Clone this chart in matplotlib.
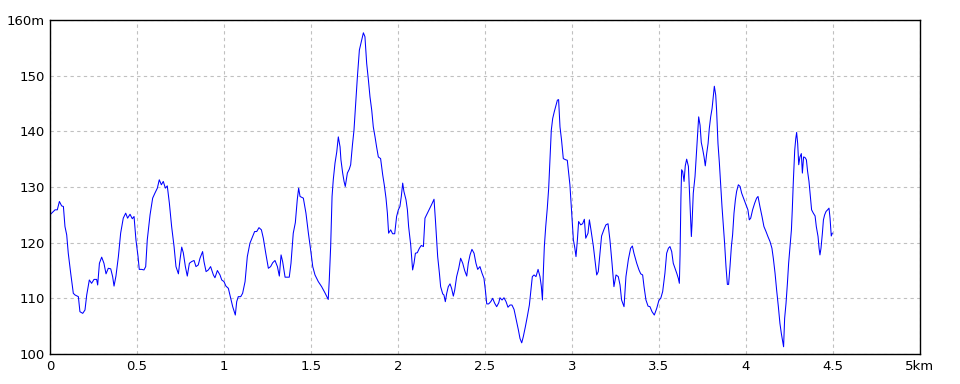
import matplotlib
matplotlib.use("Agg")
import matplotlib.pyplot as plt

# elevation profile (distance in km, elevation in m)
dist_km = [
    0.000, 0.029, 0.042, 0.054, 0.067, 0.077, 0.086, 0.096, 0.105, 0.119,
    0.134, 0.144, 0.163, 0.172, 0.188, 0.201, 0.211, 0.226, 0.239, 0.253,
    0.268, 0.274, 0.284, 0.297, 0.310, 0.322, 0.335, 0.349, 0.360, 0.368,
    0.379, 0.393, 0.406, 0.421, 0.435, 0.446, 0.460, 0.473, 0.483, 0.494,
    0.506, 0.513, 0.527, 0.540, 0.550, 0.559, 0.575, 0.590, 0.603, 0.617,
    0.628, 0.640, 0.651, 0.663, 0.674, 0.686, 0.699, 0.713, 0.724, 0.738,
    0.747, 0.757, 0.766, 0.778, 0.789, 0.801, 0.814, 0.828, 0.839, 0.852,
    0.862, 0.877, 0.885, 0.897, 0.910, 0.923, 0.939, 0.948, 0.962, 0.977,
    0.987, 1.000, 1.011, 1.025, 1.034, 1.050, 1.065, 1.073, 1.082, 1.096,
    1.107, 1.121, 1.134, 1.149, 1.163, 1.176, 1.188, 1.201, 1.215, 1.226,
    1.240, 1.255, 1.268, 1.280, 1.293, 1.307, 1.318, 1.328, 1.337, 1.351,
    1.364, 1.375, 1.385, 1.398, 1.410, 1.421, 1.429, 1.437, 1.456, 1.471,
    1.485, 1.498, 1.510, 1.523, 1.542, 1.561, 1.580, 1.599, 1.605, 1.613,
    1.621, 1.628, 1.638, 1.648, 1.657, 1.667, 1.672, 1.682, 1.690, 1.697,
    1.709, 1.720, 1.728, 1.738, 1.747, 1.757, 1.766, 1.778, 1.789, 1.801,
    1.810, 1.820, 1.830, 1.839, 1.849, 1.858, 1.868, 1.877, 1.887, 1.900,
    1.912, 1.921, 1.931, 1.939, 1.946, 1.958, 1.969, 1.981, 1.992, 2.002,
    2.011, 2.019, 2.027, 2.034, 2.046, 2.054, 2.061, 2.073, 2.084, 2.092,
    2.100, 2.111, 2.123, 2.134, 2.146, 2.155, 2.169, 2.180, 2.194, 2.207,
    2.215, 2.222, 2.228, 2.238, 2.245, 2.257, 2.264, 2.272, 2.280, 2.289,
    2.299, 2.308, 2.318, 2.326, 2.337, 2.349, 2.360, 2.372, 2.383, 2.395,
    2.404, 2.414, 2.425, 2.437, 2.448, 2.458, 2.471, 2.483, 2.494, 2.502,
    2.510, 2.521, 2.533, 2.544, 2.556, 2.567, 2.579, 2.586, 2.598, 2.609,
    2.621, 2.632, 2.644, 2.655, 2.667, 2.678, 2.692, 2.701, 2.711, 2.720,
    2.732, 2.743, 2.755, 2.762, 2.772, 2.782, 2.793, 2.805, 2.816, 2.824,
    2.830, 2.835, 2.841, 2.849, 2.858, 2.866, 2.874, 2.881, 2.889, 2.898,
    2.908, 2.916, 2.923, 2.931, 2.940, 2.950, 2.963, 2.973, 2.981, 2.988,
    2.998, 3.008, 3.015, 3.023, 3.031, 3.038, 3.050, 3.061, 3.071, 3.079,
    3.092, 3.100, 3.109, 3.123, 3.142, 3.151, 3.161, 3.170, 3.184, 3.195,
    3.207, 3.218, 3.230, 3.241, 3.253, 3.266, 3.276, 3.285, 3.299, 3.310,
    3.324, 3.337, 3.347, 3.356, 3.372, 3.385, 3.395, 3.406, 3.414, 3.425,
    3.437, 3.448, 3.460, 3.473, 3.487, 3.500, 3.510, 3.521, 3.534, 3.544,
    3.554, 3.563, 3.573, 3.582, 3.592, 3.602, 3.611, 3.617, 3.621, 3.626,
    3.630, 3.636, 3.644, 3.651, 3.659, 3.669, 3.674, 3.682, 3.686, 3.690,
    3.697, 3.707, 3.713, 3.720, 3.728, 3.736, 3.743, 3.751, 3.759, 3.766,
    3.774, 3.782, 3.789, 3.797, 3.805, 3.812, 3.818, 3.826, 3.831, 3.839,
    3.847, 3.854, 3.862, 3.870, 3.877, 3.885, 3.893, 3.900, 3.908, 3.916,
    3.923, 3.931, 3.939, 3.946, 3.956, 3.966, 3.975, 3.989, 4.000, 4.011,
    4.019, 4.027, 4.038, 4.050, 4.061, 4.069, 4.080, 4.092, 4.103, 4.115,
    4.126, 4.138, 4.149, 4.157, 4.167, 4.176, 4.186, 4.195, 4.203, 4.211,
    4.216, 4.222, 4.230, 4.238, 4.245, 4.253, 4.261, 4.266, 4.272, 4.280,
    4.286, 4.291, 4.297, 4.303, 4.310, 4.318, 4.324, 4.331, 4.339, 4.347,
    4.354, 4.362, 4.370, 4.377, 4.387, 4.397, 4.404, 4.414, 4.420, 4.425,
    4.431, 4.439, 4.445, 4.452, 4.460, 4.469, 4.477, 4.483, 4.490, 4.496,
]
elev_m = [
    125.0, 125.9, 125.9, 127.4, 126.6, 126.5, 122.9, 121.4, 118.1, 114.5,
    110.9, 110.6, 110.3, 107.6, 107.3, 107.9, 110.6, 113.3, 112.7, 113.4,
    113.4, 112.4, 116.3, 117.4, 116.3, 114.4, 115.4, 115.3, 113.9, 112.2,
    114.0, 117.5, 121.7, 124.4, 125.3, 124.4, 125.1, 124.3, 124.7, 120.5,
    117.5, 115.2, 115.2, 115.1, 115.7, 120.5, 125.0, 128.0, 128.9, 129.8,
    131.3, 130.4, 131.0, 129.8, 130.2, 127.1, 122.9, 119.3, 115.7, 114.4,
    116.9, 119.2, 118.2, 115.7, 114.0, 116.3, 116.6, 116.8, 115.7, 116.0,
    117.2, 118.4, 116.6, 114.8, 115.1, 115.7, 114.2, 113.7, 115.0, 114.2,
    113.3, 113.0, 112.2, 111.8, 110.6, 108.5, 107.0, 109.4, 110.3, 110.3,
    110.9, 113.0, 117.5, 119.9, 121.0, 122.0, 122.0, 122.7, 122.3, 120.8,
    118.1, 115.4, 115.7, 116.4, 116.8, 115.7, 114.0, 117.8, 116.6, 113.8,
    113.8, 113.8, 116.3, 121.7, 123.6, 127.7, 129.8, 128.3, 128.0, 125.3,
    121.7, 118.7, 115.7, 114.2, 113.0, 112.1, 111.0, 109.8, 113.3, 119.3,
    128.3, 131.3, 134.3, 136.3, 139.0, 137.2, 134.9, 132.5, 131.0, 130.1,
    132.5, 133.2, 134.0, 137.5, 140.2, 145.0, 149.5, 154.6, 156.1, 157.7,
    157.0, 152.2, 149.2, 146.2, 143.8, 140.8, 139.0, 137.2, 135.4, 135.1,
    132.2, 130.4, 128.0, 125.3, 121.7, 122.3, 121.6, 121.6, 124.7, 125.9,
    126.5, 128.3, 130.7, 129.2, 127.7, 125.9, 122.9, 119.6, 115.1, 116.3,
    118.1, 118.2, 119.0, 119.5, 119.3, 124.4, 125.3, 126.0, 126.9, 127.8,
    124.1, 120.5, 117.5, 114.5, 112.1, 110.8, 110.6, 109.4, 110.9, 112.1,
    112.6, 111.8, 110.4, 111.5, 113.9, 115.4, 117.2, 116.3, 115.0, 114.0,
    116.3, 117.8, 118.8, 118.1, 116.3, 115.2, 115.7, 114.5, 113.6, 111.5,
    109.0, 109.0, 109.4, 110.0, 109.1, 108.5, 109.2, 110.1, 109.7, 110.1,
    109.4, 108.4, 108.8, 108.8, 108.0, 106.4, 104.3, 102.8, 102.0, 103.1,
    104.9, 106.7, 108.8, 110.9, 113.9, 114.2, 113.9, 115.2, 113.9, 112.1,
    109.7, 114.5, 119.3, 122.9, 126.2, 129.8, 135.4, 140.2, 142.3, 143.5,
    144.7, 145.6, 145.7, 140.8, 138.4, 135.1, 134.9, 134.8, 132.5, 130.4,
    125.3, 120.5, 119.3, 117.5, 120.5, 123.8, 123.2, 123.4, 124.2, 120.8,
    121.7, 124.1, 122.3, 119.3, 114.2, 114.8, 118.1, 121.2, 122.4, 123.2,
    123.4, 120.5, 116.3, 112.1, 114.2, 113.9, 112.4, 109.7, 108.5, 113.9,
    117.0, 119.0, 119.4, 118.1, 116.3, 115.1, 114.4, 114.2, 112.1, 109.7,
    108.6, 108.5, 107.6, 107.0, 108.2, 109.7, 110.0, 111.2, 114.5, 118.1,
    119.0, 119.3, 118.4, 116.3, 115.4, 114.5, 113.6, 112.7, 117.8, 128.0,
    133.1, 132.8, 131.0, 133.8, 135.0, 133.7, 130.1, 124.1, 121.1, 123.5,
    128.9, 131.9, 134.9, 138.4, 142.6, 141.1, 138.0, 136.8, 135.4, 133.8,
    136.0, 137.8, 140.5, 142.6, 144.1, 146.2, 148.1, 146.5, 143.8, 137.8,
    134.3, 130.7, 126.5, 122.9, 119.9, 115.7, 112.5, 112.5, 115.7, 119.3,
    121.4, 125.3, 127.7, 129.2, 130.4, 130.1, 128.9, 127.7, 126.8, 125.9,
    124.1, 124.4, 125.9, 127.1, 128.0, 128.3, 126.5, 124.7, 122.9, 122.0,
    121.1, 120.2, 119.0, 117.2, 114.5, 111.5, 108.5, 105.5, 103.7, 102.2,
    101.3, 106.4, 109.1, 112.7, 116.3, 119.3, 122.3, 125.9, 131.0, 136.6,
    138.7, 139.8, 137.8, 134.0, 135.4, 136.0, 132.5, 135.4, 135.3, 134.9,
    132.8, 131.0, 128.3, 125.9, 125.3, 124.8, 122.9, 121.1, 119.0, 117.8,
    119.0, 121.7, 124.1, 125.0, 125.6, 125.9, 126.2, 124.4, 121.2, 121.7,
]

x_ticks = [0, 0.5, 1, 1.5, 2, 2.5, 3, 3.5, 4, 4.5, 5]
x_labels = ["0", "0.5", "1", "1.5", "2", "2.5", "3", "3.5", "4", "4.5", "5km"]
y_ticks = [100, 110, 120, 130, 140, 150, 160]
y_labels = ["100", "110", "120", "130", "140", "150", "160m"]

fig = plt.figure(figsize=(9.6, 3.84), dpi=100)
ax = fig.add_axes([50 / 960, 30 / 384, 870 / 960, 334 / 384])

ax.plot(dist_km, elev_m, color="#0000ff", lw=0.75)

ax.set_xlim(0, 5)
ax.set_ylim(100, 160)
ax.set_xticks(x_ticks)
ax.set_xticklabels(x_labels)
ax.set_yticks(y_ticks)
ax.set_yticklabels(y_labels)
ax.tick_params(length=0, labelsize=9.5, pad=4, colors="black")
ax.grid(True, color="#c0c0c0", linestyle=(0, (3, 3)), lw=0.8)
for s in ax.spines.values():
    s.set_linewidth(1.0)
    s.set_color("black")

fig.savefig("out.png", dpi=100)
